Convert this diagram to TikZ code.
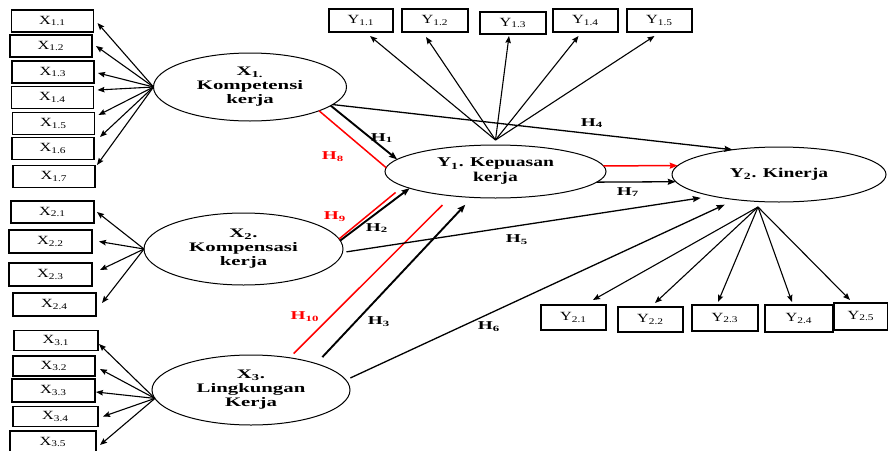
\documentclass[tikz,border=0pt]{standalone}
\usepackage{fontspec}
\setmainfont{Liberation Serif}
\usetikzlibrary{shapes.geometric,arrows.meta,calc}
\newcommand\stx[1]{\scalebox{1.6}[1]{#1}}
\newcommand\sty[1]{\scalebox{1.45}[1]{#1}}
\newcommand\sbx[1]{\scalebox{1.3}[1]{#1}}
\tikzset{
  ibox/.style={draw=black,line width=1.3pt,inner sep=0pt,outer sep=0pt,
    font=\fontsize{12.5}{13}\selectfont},
  lat/.style={draw=black,line width=1pt,ellipse,inner sep=0pt,outer sep=0pt,
    align=center,font=\bfseries\fontsize{13}{14}\selectfont},
  ind/.style={line width=1.1pt,-{Stealth[length=7pt,width=5.5pt,inset=1pt]}},
  hyp/.style={line width=1.3pt,-{Stealth[length=8pt,width=6pt,inset=1pt]}},
  hypb/.style={line width=1.9pt,-{Stealth[length=8pt,width=6pt,inset=1pt]}},
  redl/.style={draw=red,line width=1.5pt},
  hl/.style={inner sep=0pt,font=\bfseries\fontsize{12}{12}\selectfont},
  hlr/.style={hl,text=red}
}
\begin{document}
\begin{tikzpicture}[x=1pt,y=-1pt]
\useasboundingbox (0,0) rectangle (888,450);
% X1 indicator boxes
\node[ibox,minimum width=82pt,minimum height=22pt] (x11) at (52.5,21) {\sbx{X\textsubscript{1.1}}};
\node[ibox,minimum width=82pt,minimum height=22pt] (x12) at (51,46) {\sbx{X\textsubscript{1.2}}};
\node[ibox,minimum width=82pt,minimum height=22pt] (x13) at (53,72) {\sbx{X\textsubscript{1.3}}};
\node[ibox,minimum width=82pt,minimum height=22pt] (x14) at (52.5,97.5) {\sbx{X\textsubscript{1.4}}};
\node[ibox,minimum width=82pt,minimum height=22pt] (x15) at (53.5,123.5) {\sbx{X\textsubscript{1.5}}};
\node[ibox,minimum width=82pt,minimum height=22pt] (x16) at (53,148.5) {\sbx{X\textsubscript{1.6}}};
\node[ibox,minimum width=82pt,minimum height=22pt] (x17) at (54,176.5) {\sbx{X\textsubscript{1.7}}};
% X2 indicator boxes
\node[ibox,minimum width=83pt,minimum height=22pt] (x21) at (52.5,212) {\sbx{X\textsubscript{2.1}}};
\node[ibox,minimum width=83pt,minimum height=23pt] (x22) at (50.5,241.5) {\sbx{X\textsubscript{2.2}}};
\node[ibox,minimum width=83pt,minimum height=23pt] (x23) at (50.5,274.5) {\sbx{X\textsubscript{2.3}}};
\node[ibox,minimum width=83pt,minimum height=23pt] (x24) at (54.5,304.5) {\sbx{X\textsubscript{2.4}}};
% X3 indicator boxes
\node[ibox,minimum width=84pt,minimum height=20pt] (x31) at (56,340.5) {\sbx{X\textsubscript{3.1}}};
\node[ibox,minimum width=82pt,minimum height=20pt] (x32) at (54,366) {\sbx{X\textsubscript{3.2}}};
\node[ibox,minimum width=83pt,minimum height=23pt] (x33) at (53.5,390.5) {\sbx{X\textsubscript{3.3}}};
\node[ibox,minimum width=85pt,minimum height=20pt] (x34) at (55.5,416.5) {\sbx{X\textsubscript{3.4}}};
\node[ibox,minimum width=86pt,minimum height=22pt] (x35) at (53,442) {\sbx{X\textsubscript{3.5}}};
% Y1 indicator boxes
\node[ibox,minimum width=64pt,minimum height=23pt] (y11) at (361,20.5) {\sbx{Y\textsubscript{1.1}}};
\node[ibox,minimum width=66pt,minimum height=23pt] (y12) at (435,20.5) {\sbx{Y\textsubscript{1.2}}};
\node[ibox,minimum width=66pt,minimum height=22pt] (y13) at (513,23) {\sbx{Y\textsubscript{1.3}}};
\node[ibox,minimum width=65pt,minimum height=23pt] (y14) at (585.5,20.5) {\sbx{Y\textsubscript{1.4}}};
\node[ibox,minimum width=65pt,minimum height=23pt] (y15) at (659.5,20.5) {\sbx{Y\textsubscript{1.5}}};
% Y2 indicator boxes
\node[ibox,minimum width=65pt,minimum height=25pt] (y21) at (573.5,317.5) {\sbx{Y\textsubscript{2.1}}};
\node[ibox,minimum width=65pt,minimum height=25pt] (y22) at (650.5,319.5) {\sbx{Y\textsubscript{2.2}}};
\node[ibox,minimum width=66pt,minimum height=26pt] (y23) at (725,318) {\sbx{Y\textsubscript{2.3}}};
\node[ibox,minimum width=68pt,minimum height=27pt] (y24) at (799,318.5) {\sbx{Y\textsubscript{2.4}}};
\node[ibox,minimum width=54pt,minimum height=27pt,anchor=center] (y25) at (861,316.5) {\raisebox{3pt}{\sbx{Y\textsubscript{2.5}}}};
% latent variables
\node[lat,minimum width=193pt,minimum height=68pt] (x1) at (250,87) {\stx{X\textsubscript{1.}}\\\stx{Kompetensi}\\\stx{kerja}};
\node[lat,minimum width=199pt,minimum height=72pt] (x2) at (243.5,249) {\stx{X\textsubscript{2}.}\\\stx{Kompensasi}\\\stx{kerja}};
\node[lat,minimum width=198pt,minimum height=70pt] (x3) at (251,390) {\stx{X\textsubscript{3}.}\\\stx{Lingkungan}\\\stx{Kerja}};
\node[lat,minimum width=221pt,minimum height=53pt,font=\bfseries\fontsize{13.5}{15}\selectfont] (y1) at (495.5,171.5) {\sty{Y\textsubscript{1}. Kepuasan}\\\sty{kerja}};
\node[lat,minimum width=214pt,minimum height=55pt,font=\bfseries\fontsize{13.5}{15}\selectfont] (y2) at (779,174.5) {\sty{Y\textsubscript{2}. Kinerja}};
% hubs
\coordinate (hx1) at (x1.west);
\coordinate (hx2) at (x2.west);
\coordinate (hx3) at (x3.185);
\coordinate (hy1) at ($(y1.north)+(0,-5)$);
\coordinate (hy2) at ($(y2.south)+(-21,5)$);
% X1 indicators
\draw[ind] (hx1) -- ($(x11.east)+(4,2)$);
\draw[ind] (hx1) -- ($(x12.east)+(4,0)$);
\draw[ind] (hx1) -- ($(x13.east)+(4,1)$);
\draw[ind] (hx1) -- ($(x14.east)+(4,-7.5)$);
\draw[ind] (hx1) -- ($(x15.east)+(4,-8.5)$);
\draw[ind] (hx1) -- ($(x16.east)+(6,-11.5)$);
\draw[ind] (hx1) -- ($(x17.east)+(2,-11.5)$);
% X2 indicators
\draw[ind] (hx2) -- ($(x21.east)+(3,0)$);
\draw[ind] (hx2) -- ($(x22.east)+(7,0)$);
\draw[ind] (hx2) -- ($(x23.east)+(8,-4.5)$);
\draw[ind] (hx2) -- ($(x24.east)+(6,-1.5)$);
% X3 indicators
\draw[ind] (hx3) -- ($(x31.east)+(1,3.5)$);
\draw[ind] (hx3) -- ($(x32.east)+(5,3)$);
\draw[ind] (hx3) -- ($(x33.east)+(1,1.5)$);
\draw[ind] (hx3) -- ($(x34.east)+(5,0)$);
\draw[ind] (hx3) -- ($(x35.east)+(4,3)$);
% Y1 indicators
\draw[ind] (hy1) -- ($(y11.south)+(9,4)$);
\draw[ind] (hy1) -- ($(y12.south)+(-9,5)$);
\draw[ind] (hy1) -- ($(y13.south)+(-4,2)$);
\draw[ind] (hy1) -- ($(y14.south)+(-7,4)$);
\draw[ind] (hy1) -- ($(y15.south)+(-5,4)$);
% Y2 indicators
\draw[ind] (hy2) -- ($(y21.north)+(19.5,-5)$);
\draw[ind] (hy2) -- ($(y22.north)+(4.5,-4)$);
\draw[ind] (hy2) -- ($(y23.north)+(-7,-3)$);
\draw[ind] (hy2) -- ($(y24.north)+(-7,-3)$);
\draw[ind] (hy2) -- ($(y25.north)+(-11,-3)$);
% structural paths
\draw[hypb] (x1.-13.5) -- (y1.173.5);
\draw[hyp] (x1.-12) -- (y2.152);
\draw[redl] (x1.-19) -- (y1.178.7);
\draw[redl,-{Stealth[length=8pt,width=6pt,inset=1pt]}] (y1.3) -- (y2.175.5);
\draw[hyp] (y1.-6.2) -- (y2.184);
\draw[hypb] (x2.5.2) -- (y1.191.9);
\draw[redl,shorten >=10pt] (x2.6.9) -- (y1.189.2);
\draw[redl,shorten <=6pt,shorten >=13pt] (x3.40) -- (y1.209.9);
\draw[hypb,shorten <=9pt,shorten >=10pt] (x3.22.3) -- (y1.228.6);
\draw[hyp,shorten <=4pt,shorten >=12pt] (x2.-2.2) -- (y2.198.3);
\draw[hyp,shorten <=5pt,shorten >=12pt] (x3.6.9) -- (y2.210.7);
% labels
\node[hl] (l1) at (382,138) {\stx{H\textsubscript{1}}};
\node[hlr] (l8) at (333,157) {\stx{H\textsubscript{8}}};
\node[hl] (l4) at (592,123) {\stx{H\textsubscript{4}}};
\node[hl] (l7) at (628,192) {\stx{H\textsubscript{7}}};
\node[hlr] (l9) at (335,217) {\stx{H\textsubscript{9}}};
\node[hl] (l2) at (377,228) {\stx{H\textsubscript{2}}};
\node[hl] (l5) at (517,240) {\stx{H\textsubscript{5}}};
\node[hlr] (l10) at (305,317) {\stx{H\textsubscript{10}}};
\node[hl] (l3) at (379,322) {\stx{H\textsubscript{3}}};
\node[hl] (l6) at (489,327) {\stx{H\textsubscript{6}}};
\end{tikzpicture}
\end{document}
